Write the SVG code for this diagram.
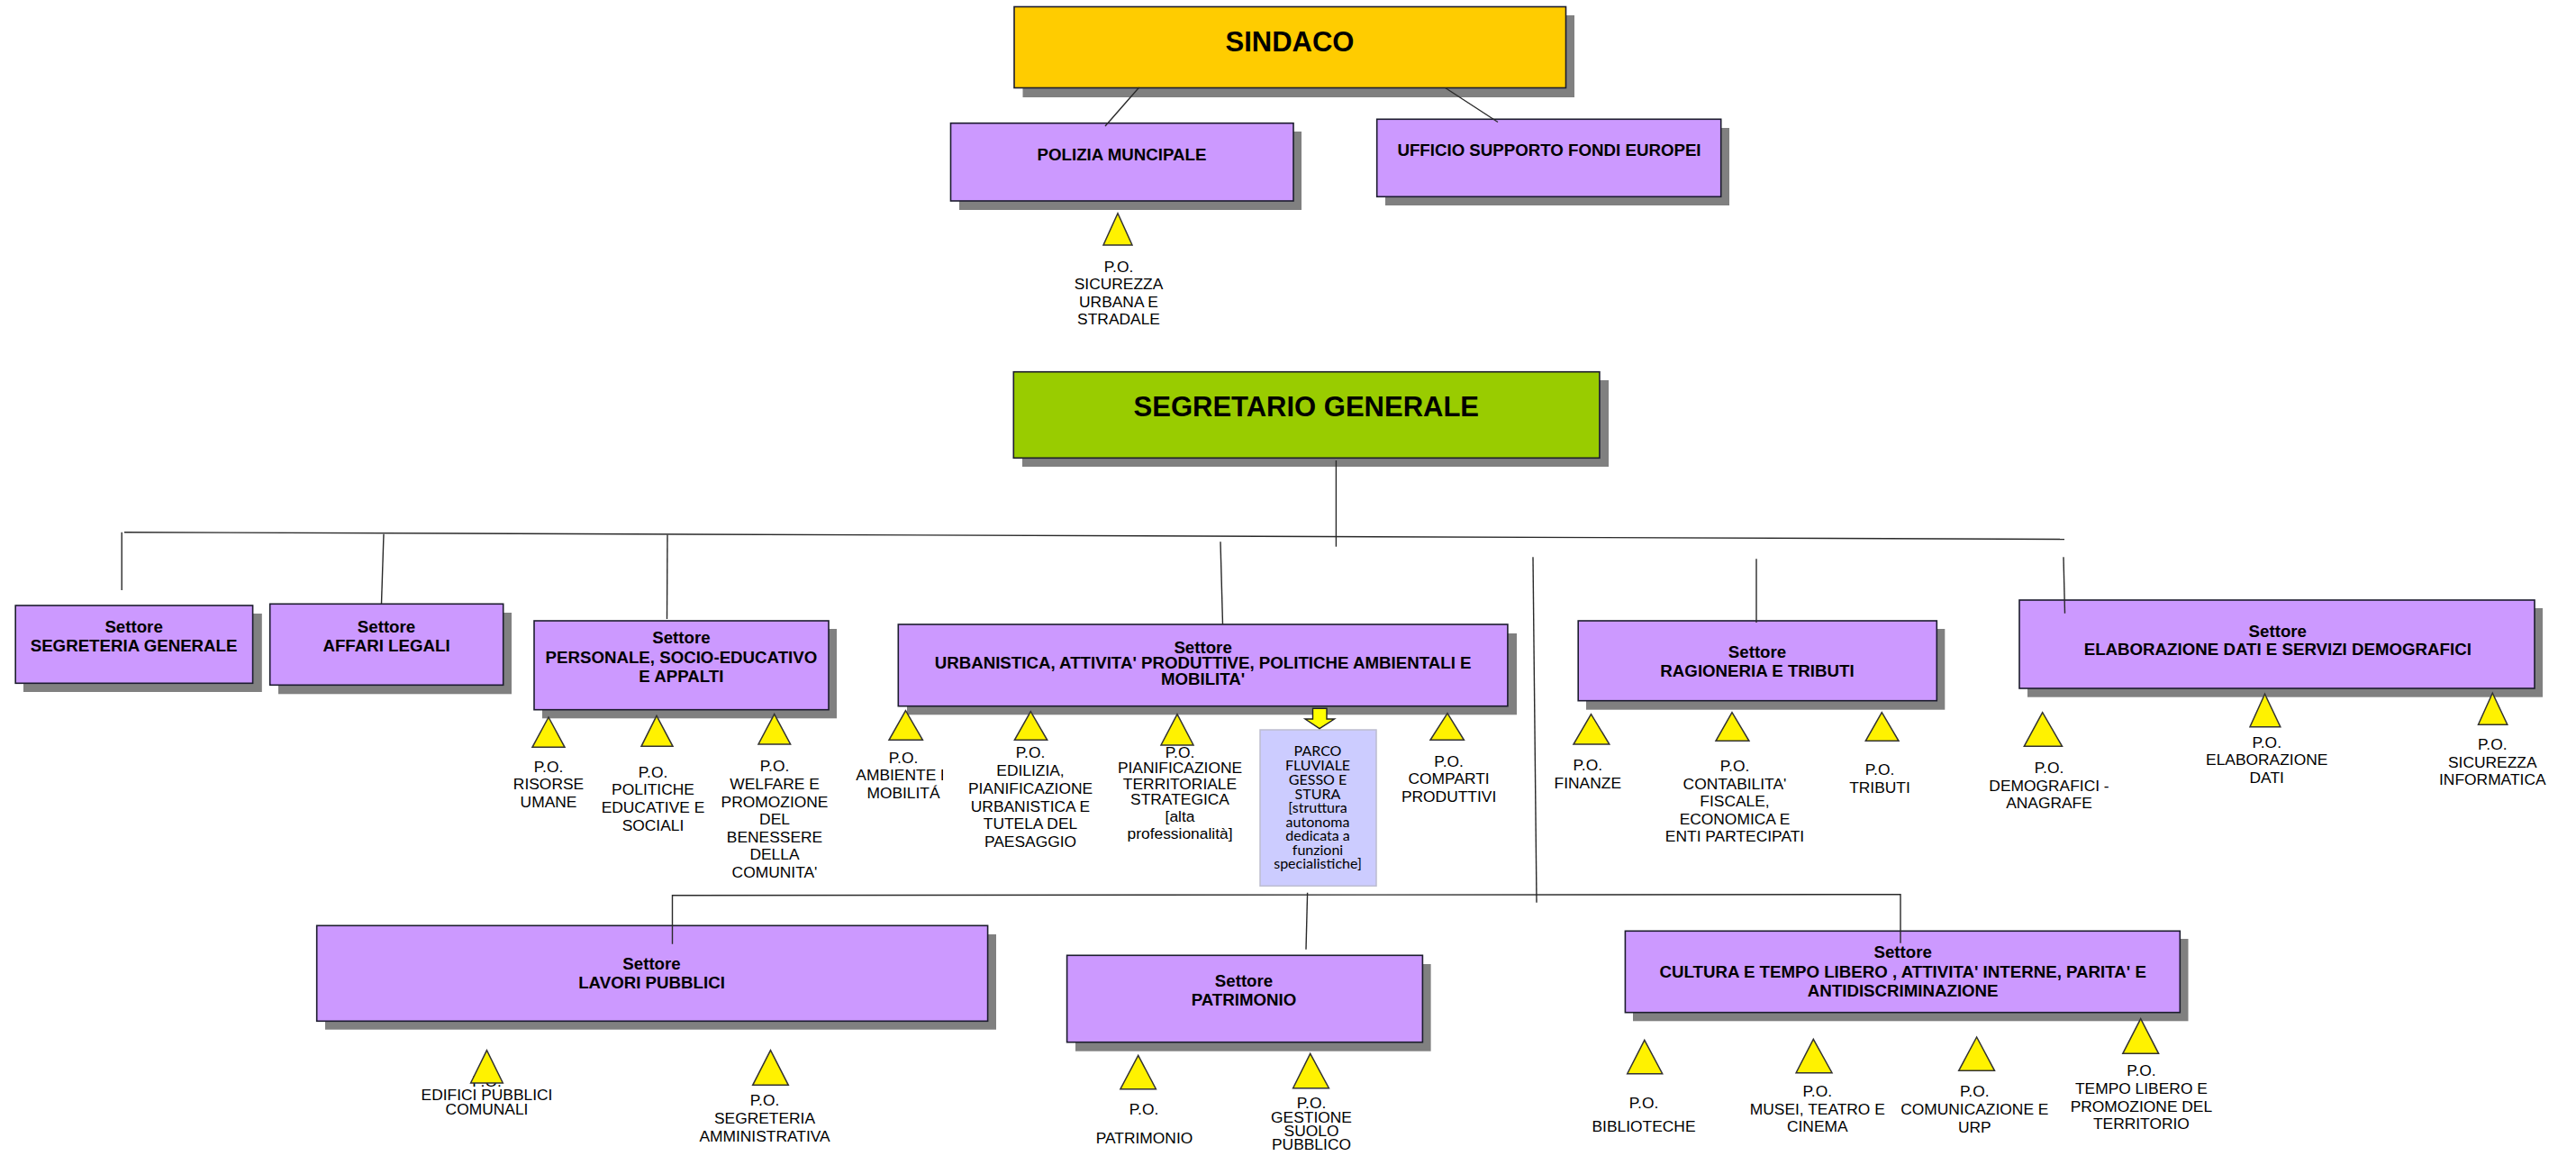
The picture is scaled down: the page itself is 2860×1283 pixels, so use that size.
<svg xmlns="http://www.w3.org/2000/svg" width="2860" height="1283" viewBox="0 0 2860 1283">
<style>
text{font-family:"Liberation Sans",Arial,sans-serif;fill:#000;text-anchor:middle}
.box{stroke:#1c1c2e;stroke-width:1.6}
.sh{fill:#808080}
.p{fill:#CC99FF}
.t{font-weight:bold;font-size:18.7px;transform:translateY(-1px)}
.h{font-weight:bold;font-size:31px}
.l{font-size:17.4px;transform:translateY(-1px)}
.tri{fill:#FFF200;stroke:#333;stroke-width:1.5}
.c{fill:none;stroke:#2a2a2a;stroke-width:1.4}
</style>
<defs><clipPath id="clipAmb"><rect x="900" y="820" width="147" height="90"/></clipPath></defs>
<rect width="2860" height="1283" fill="#fff"/>

<g id="sindaco"><rect class="sh" x="1135.5" y="17" width="612.5" height="91"/><rect class="box" x="1126" y="7.5" width="612.5" height="90" fill="#FFCC00"/><text class="h" x="1432" y="57">SINDACO</text></g>
<g id="polizia"><rect class="sh" x="1065" y="146" width="380" height="87"/><rect class="box p" x="1055.5" y="136.7" width="380.5" height="86.3"/><text class="t" x="1245.5" y="179">POLIZIA MUNCIPALE</text></g>
<g id="fondi"><rect class="sh" x="1538" y="142" width="382" height="86"/><rect class="box p" x="1528.7" y="132.3" width="382" height="86"/><text class="t" x="1720" y="174">UFFICIO SUPPORTO FONDI EUROPEI</text></g>
<g id="po-sicurezza-urbana"><polygon class="tri" points="1241,236.7 1225,272 1257,272"/><text class="l"><tspan x="1242" y="302.5">P.O.</tspan><tspan x="1242" y="322">SICUREZZA</tspan><tspan x="1242" y="341.5">URBANA E</tspan><tspan x="1242" y="361">STRADALE</tspan></text></g>

<g id="segretario"><rect class="sh" x="1135" y="422" width="651" height="96"/><rect class="box" x="1125.3" y="412.7" width="650.6" height="95.6" fill="#99CC00"/><text class="h" x="1450.3" y="461.7">SEGRETARIO GENERALE</text></g>

<g id="segreteria"><rect class="sh" x="26" y="681" width="264.8" height="87"/><rect class="box p" x="17.2" y="672" width="263.4" height="86.3"/><text class="t"><tspan x="148.6" y="703.3">Settore</tspan><tspan x="148.6" y="724">SEGRETERIA GENERALE</tspan></text></g>
<g id="affari"><rect class="sh" x="309" y="680" width="259" height="90.3"/><rect class="box p" x="299.7" y="670.3" width="259" height="90"/><text class="t"><tspan x="429" y="703.3">Settore</tspan><tspan x="429" y="724">AFFARI LEGALI</tspan></text></g>
<g id="personale"><rect class="sh" x="602" y="698" width="327" height="99.3"/><rect class="box p" x="593" y="689" width="327" height="98.7"/><text class="t"><tspan x="756.4" y="715.3">Settore</tspan><tspan x="756.4" y="736.5">PERSONALE, SOCIO-EDUCATIVO</tspan><tspan x="756.4" y="758">E APPALTI</tspan></text></g>
<g id="urbanistica"><rect class="sh" x="1007" y="703" width="677" height="90.3"/><rect class="box p" x="997.3" y="693" width="676.6" height="90.7"/><text class="t"><tspan x="1335.6" y="725.7">Settore</tspan><tspan x="1335.6" y="743">URBANISTICA, ATTIVITA' PRODUTTIVE, POLITICHE AMBIENTALI E</tspan><tspan x="1335.6" y="760.5">MOBILITA'</tspan></text></g>
<g id="ragioneria"><rect class="sh" x="1761" y="698" width="398.3" height="89.7"/><rect class="box p" x="1752.2" y="689" width="398.1" height="88.7"/><text class="t"><tspan x="1951" y="731">Settore</tspan><tspan x="1951" y="751.7">RAGIONERIA E TRIBUTI</tspan></text></g>
<g id="elaborazione"><rect class="sh" x="2251" y="675" width="572" height="98.7"/><rect class="box p" x="2242" y="666" width="572" height="98"/><text class="t"><tspan x="2528.8" y="707.7">Settore</tspan><tspan x="2528.8" y="728.3">ELABORAZIONE DATI E SERVIZI DEMOGRAFICI</tspan></text></g>

<g id="po-risorse"><polygon class="tri" points="609,796 591,829.3 627,829.3"/><text class="l"><tspan x="609" y="857.7">P.O.</tspan><tspan x="609" y="877">RISORSE</tspan><tspan x="609" y="896.7">UMANE</tspan></text></g>
<g id="po-politiche"><polygon class="tri" points="729,794.3 712,828.3 747,828.3"/><text class="l"><tspan x="725" y="863.7">P.O.</tspan><tspan x="725" y="883">POLITICHE</tspan><tspan x="725" y="902.7">EDUCATIVE E</tspan><tspan x="725" y="922.5">SOCIALI</tspan></text></g>
<g id="po-welfare"><polygon class="tri" points="859.7,792.7 842,826 877.6,826"/><text class="l"><tspan x="860" y="857.3">P.O.</tspan><tspan x="860" y="876.7">WELFARE E</tspan><tspan x="860" y="896.7">PROMOZIONE</tspan><tspan x="860" y="916">DEL</tspan><tspan x="860" y="936">BENESSERE</tspan><tspan x="860" y="955">DELLA</tspan><tspan x="860" y="975">COMUNITA'</tspan></text></g>
<g id="po-ambiente"><polygon class="tri" points="1005.5,788.7 987,821.3 1024.4,821.3"/><g clip-path="url(#clipAmb)"><text class="l"><tspan x="1003" y="847.7">P.O.</tspan><tspan x="1003" y="867">AMBIENTE E</tspan><tspan x="1003" y="886.7">MOBILITÁ</tspan></text></g></g>
<g id="po-edilizia"><polygon class="tri" points="1144.3,789.7 1126.4,821.3 1162.7,821.3"/><text class="l"><tspan x="1144" y="842.3">P.O.</tspan><tspan x="1144" y="862.3">EDILIZIA,</tspan><tspan x="1144" y="882.3">PIANIFICAZIONE</tspan><tspan x="1144" y="902">URBANISTICA E</tspan><tspan x="1144" y="921">TUTELA DEL</tspan><tspan x="1144" y="940.7">PAESAGGIO</tspan></text></g>
<g id="po-pianificazione"><polygon class="tri" points="1307,792.7 1289,827 1325,827"/><text class="l"><tspan x="1310" y="842.3">P.O.</tspan><tspan x="1310" y="859.3">PIANIFICAZIONE</tspan><tspan x="1310" y="876.7">TERRITORIALE</tspan><tspan x="1310" y="894">STRATEGICA</tspan><tspan x="1310" y="913.3">[alta</tspan><tspan x="1310" y="931.7">professionalità]</tspan></text></g>
<g id="parco"><rect x="1399" y="810" width="129" height="173.3" fill="#CCCCFF" stroke="#bdbdd0" stroke-width="1.5"/><polygon points="1457.5,786.3 1473,786.3 1473,798 1481.5,798 1465,808.7 1449,798 1457.5,798" fill="#FFFF00" stroke="#222" stroke-width="1.4"/><text style="font-family:Lato,'Open Sans',sans-serif;font-size:16px"><tspan x="1463" y="838.5">PARCO</tspan><tspan x="1463" y="854.5">FLUVIALE</tspan><tspan x="1463" y="870.5">GESSO E</tspan><tspan x="1463" y="886.5">STURA</tspan><tspan x="1463" y="902">[struttura</tspan><tspan x="1463" y="917.5">autonoma</tspan><tspan x="1463" y="933">dedicata a</tspan><tspan x="1463" y="948.5">funzioni</tspan><tspan x="1463" y="964">specialistiche]</tspan></text></g>
<g id="po-comparti"><polygon class="tri" points="1607,791.7 1588,821.3 1625.4,821.3"/><text class="l"><tspan x="1608.6" y="852">P.O.</tspan><tspan x="1608.6" y="871">COMPARTI</tspan><tspan x="1608.6" y="891">PRODUTTIVI</tspan></text></g>
<g id="po-finanze"><polygon class="tri" points="1766.5,792.7 1747,826 1786.8,826"/><text class="l"><tspan x="1762.8" y="855.7">P.O.</tspan><tspan x="1762.8" y="875.7">FINANZE</tspan></text></g>
<g id="po-contabilita"><polygon class="tri" points="1923,790.7 1905,822.3 1941.9,822.3"/><text class="l"><tspan x="1926" y="856.7">P.O.</tspan><tspan x="1926" y="876.7">CONTABILITA'</tspan><tspan x="1926" y="896">FISCALE,</tspan><tspan x="1926" y="915.7">ECONOMICA E</tspan><tspan x="1926" y="935">ENTI PARTECIPATI</tspan></text></g>
<g id="po-tributi"><polygon class="tri" points="2089.3,790.7 2071.3,822.3 2108,822.3"/><text class="l"><tspan x="2087" y="860.7">P.O.</tspan><tspan x="2087" y="881">TRIBUTI</tspan></text></g>
<g id="po-demografici"><polygon class="tri" points="2267.7,790.7 2247.3,828.3 2289.5,828.3"/><text class="l"><tspan x="2275" y="859.3">P.O.</tspan><tspan x="2275" y="878.7">DEMOGRAFICI -</tspan><tspan x="2275" y="898.3">ANAGRAFE</tspan></text></g>
<g id="po-elaborazione"><polygon class="tri" points="2514.5,770.3 2498,806.7 2531.8,806.7"/><text class="l"><tspan x="2516.7" y="830.7">P.O.</tspan><tspan x="2516.7" y="850">ELABORAZIONE</tspan><tspan x="2516.7" y="869.7">DATI</tspan></text></g>
<g id="po-sicurezza-informatica"><polygon class="tri" points="2767.3,769.3 2751.5,804.3 2783.8,804.3"/><text class="l"><tspan x="2767.3" y="832.7">P.O.</tspan><tspan x="2767.3" y="852.7">SICUREZZA</tspan><tspan x="2767.3" y="872">INFORMATICA</tspan></text></g>

<g id="lavori"><rect class="sh" x="361" y="1037" width="745" height="105.7"/><rect class="box p" x="351.7" y="1027.3" width="744.9" height="106"/><text class="t"><tspan x="723.5" y="1077.3">Settore</tspan><tspan x="723.5" y="1098.3">LAVORI PUBBLICI</tspan></text></g>
<g id="patrimonio"><rect class="sh" x="1194" y="1070" width="394.6" height="96.7"/><rect class="box p" x="1184.6" y="1060.3" width="394.8" height="96.4"/><text class="t"><tspan x="1381" y="1096">Settore</tspan><tspan x="1381" y="1116.7">PATRIMONIO</tspan></text></g>
<g id="cultura"><rect class="sh" x="1813" y="1042" width="616.5" height="91.3"/><rect class="box p" x="1804.4" y="1033.3" width="615.9" height="90.4"/><text class="t"><tspan x="2112.7" y="1064">Settore</tspan><tspan x="2112.7" y="1085.7">CULTURA E TEMPO LIBERO , ATTIVITA' INTERNE, PARITA' E</tspan><tspan x="2112.7" y="1106.7">ANTIDISCRIMINAZIONE</tspan></text></g>

<g id="po-edifici"><text class="l"><tspan x="540.5" y="1207.3">P.O.</tspan><tspan x="540.5" y="1221.7">EDIFICI PUBBLICI</tspan><tspan x="540.5" y="1237.7">COMUNALI</tspan></text><polygon class="tri" points="540.5,1165.7 522.6,1202 558.3,1202"/></g>
<g id="po-segreteria"><polygon class="tri" points="855.5,1165.7 835.7,1204.3 875.3,1204.3"/><text class="l"><tspan x="849" y="1228.3">P.O.</tspan><tspan x="849" y="1248.3">SEGRETERIA</tspan><tspan x="849" y="1267.7">AMMINISTRATIVA</tspan></text></g>
<g id="po-patrimonio"><polygon class="tri" points="1263.7,1171.3 1243.9,1208.7 1283.4,1208.7"/><text class="l"><tspan x="1270" y="1238.3">P.O.</tspan><tspan x="1270.5" y="1269.7">PATRIMONIO</tspan></text></g>
<g id="po-gestione"><polygon class="tri" points="1454.7,1169.3 1435.6,1207.7 1475.4,1207.7"/><text class="l"><tspan x="1456" y="1230.7">P.O.</tspan><tspan x="1456" y="1246.7">GESTIONE</tspan><tspan x="1456" y="1261.7">SUOLO</tspan><tspan x="1456" y="1277.3">PUBBLICO</tspan></text></g>
<g id="po-biblioteche"><polygon class="tri" points="1825.8,1154.3 1806.7,1191.7 1845.7,1191.7"/><text class="l"><tspan x="1825" y="1231">P.O.</tspan><tspan x="1825" y="1256.7">BIBLIOTECHE</tspan></text></g>
<g id="po-musei"><polygon class="tri" points="2013.3,1153.3 1994.1,1190.7 2034,1190.7"/><text class="l"><tspan x="2017.8" y="1217.7">P.O.</tspan><tspan x="2017.8" y="1237.7">MUSEI, TEATRO E</tspan><tspan x="2017.8" y="1256.7">CINEMA</tspan></text></g>
<g id="po-comunicazione"><polygon class="tri" points="2194.6,1151 2174.7,1188.3 2214.5,1188.3"/><text class="l"><tspan x="2192.3" y="1217.7">P.O.</tspan><tspan x="2192.3" y="1238.3">COMUNICAZIONE E</tspan><tspan x="2192.3" y="1257.7">URP</tspan></text></g>
<g id="po-tempo-libero"><polygon class="tri" points="2376.7,1130.7 2356.8,1169.3 2396.6,1169.3"/><text class="l"><tspan x="2377.4" y="1195">P.O.</tspan><tspan x="2377.4" y="1215">TEMPO LIBERO E</tspan><tspan x="2377.4" y="1235">PROMOZIONE DEL</tspan><tspan x="2377.4" y="1254">TERRITORIO</tspan></text></g>

<g id="connectors" class="c">
<line x1="1264.7" y1="97" x2="1227" y2="140"/>
<line x1="1604.6" y1="97.5" x2="1663" y2="135.5"/>
<line x1="1483.4" y1="511" x2="1483.4" y2="606.7"/>
<line x1="138" y1="590.7" x2="2292" y2="598.5"/>
<line x1="135.2" y1="590.7" x2="135.2" y2="655"/>
<line x1="426" y1="592.7" x2="423.5" y2="670"/>
<line x1="741" y1="593.5" x2="740.5" y2="687"/>
<line x1="1355" y1="601.3" x2="1357.5" y2="693"/>
<line x1="1950" y1="620.3" x2="1950" y2="691"/>
<line x1="2291" y1="618.3" x2="2292.5" y2="680.7"/>
<line x1="1702" y1="618.3" x2="1706" y2="1001.7"/>
<polyline points="746.5,1047.7 746.5,993.7 2110,992.7 2110,1046.7"/>
<line x1="1451.6" y1="990.7" x2="1450" y2="1053.7"/>
</g>
</svg>
